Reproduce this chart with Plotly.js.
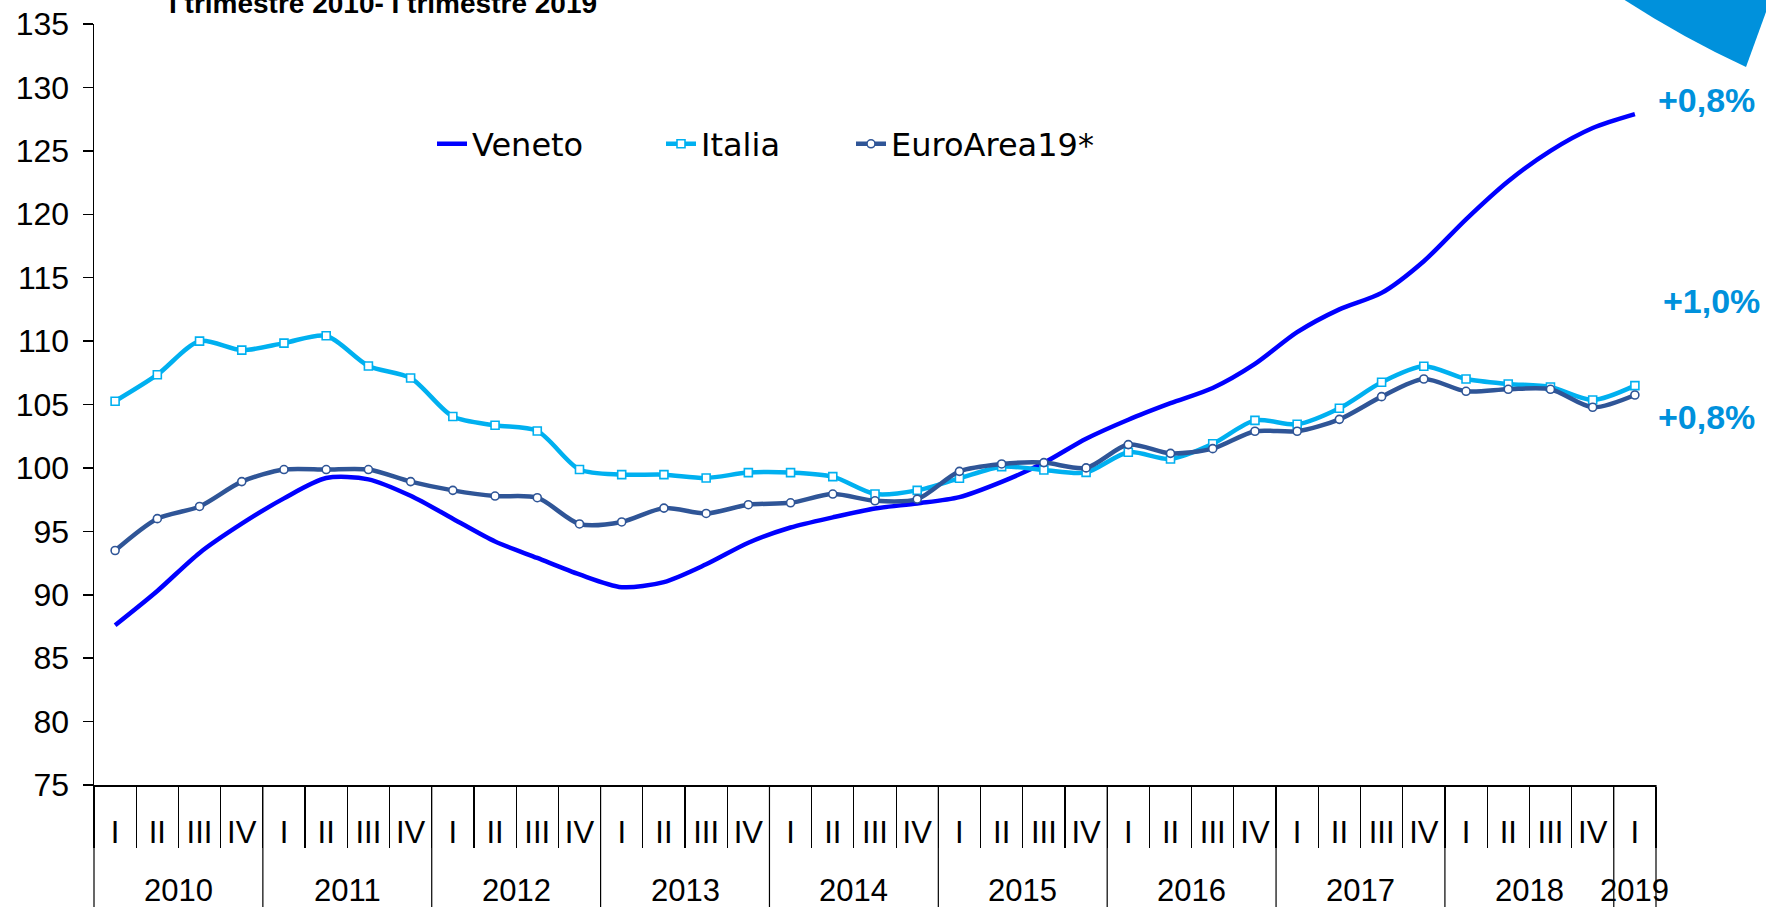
<!DOCTYPE html>
<html>
<head>
<meta charset="utf-8">
<script src="https://cdn.plot.ly/plotly-3.0.1.min.js"></script>
<style>html,body{margin:0;padding:0;background:#fff;}#chart{width:1766px;height:907px;}</style>
</head>
<body>
<div id="chart"></div>
<script>
// ---- data ----
const years = ["2010","2011","2012","2013","2014","2015","2016","2017","2018","2019"];
const quartersPerYear = [4,4,4,4,4,4,4,4,4,1];
const quarterNames = ["I","II","III","IV"];
const veneto = [87.6,90.3,93.3,95.6, 97.6,99.2,99.1,97.8, 96.0,94.2,92.9,91.6, 90.6,91.0,92.4,94.1,
  95.3,96.1,96.8,97.2, 97.7,98.9,100.4,102.3, 103.8,105.1,106.3,108.2, 110.7,112.5,113.8,116.3,
  119.6,122.6,125.0,126.8, 127.9];
const italia = [105.26,107.35,110.0,109.29, 109.84,110.42,108.04,107.09, 104.05,103.36,102.91,99.87,
  99.47,99.47,99.21,99.63, 99.63,99.31,97.94,98.23, 99.18,100.1,99.84,99.65, 101.24,100.7,101.9,103.75,
  103.44,104.7,106.75,108.01, 107.01,106.62,106.38,105.36, 106.49];
const euroArea = [93.49,96.0,96.96,98.92, 99.87,99.87,99.87,98.92, 98.23,97.78,97.65,95.58,
  95.74,96.83,96.41,97.1, 97.25,97.94,97.41,97.54, 99.73,100.31,100.42,100.0, 101.84,101.15,101.52,102.89,
  102.89,103.83,105.62,107.01, 106.04,106.2,106.2,104.78, 105.75];
const seriesNames = ["Veneto","Italia","EuroArea19*"];
const endLabels = ["+0,8%","+1,0%","+0,8%"];
const endLabelValues = [129.0,113.2,104.05];
const titleText = "I trimestre 2010- I trimestre 2019";

// ---- derived categories ----
const qLabels = [], qIdx = [];
years.forEach((y,yi)=>{ for(let q=0;q<quartersPerYear[yi];q++){ qLabels.push(quarterNames[q]); qIdx.push(qIdx.length); } });
const N = qIdx.length;
const yearStart = []; let acc = 0;
quartersPerYear.forEach(n=>{ yearStart.push(acc); acc += n; });

// ---- geometry ----
const W = 1766, H = 907;
const M = {l:94, r:110, t:24, b:122};
const PW = W - M.l - M.r, PH = H - M.t - M.b;
const pxX = px => (px - M.l)/PW;
const pxY = py => (H - M.b - py)/PH;
const dataXtoPaper = x => (x + 0.5)/N;

const fontTicks = "Liberation Sans, Arial, sans-serif";
const fontLegend = "DejaVu Sans, Verdana, sans-serif";
const accent = "#0091dc";

const traces = [
  {x:qIdx, y:veneto, name:seriesNames[0], type:"scatter", mode:"lines",
   line:{color:"#0000ff", width:4.5, shape:"spline", smoothing:0.8}, legendwidth:184},
  {x:qIdx, y:italia, name:seriesNames[1], type:"scatter", mode:"lines+markers",
   line:{color:"#00b0f0", width:4.5, shape:"spline", smoothing:0.8},
   marker:{symbol:"square", size:8, color:"#ffffff", line:{color:"#00b0f0", width:1.6}}, legendwidth:145},
  {x:qIdx, y:euroArea, name:seriesNames[2], type:"scatter", mode:"lines+markers",
   line:{color:"#2f5597", width:4.5, shape:"spline", smoothing:0.8},
   marker:{symbol:"circle", size:8, color:"#ffffff", line:{color:"#2f5597", width:1.6}}}
];

const shapes = [];
// year separators (boundaries of year groups), extending to bottom
const yb = yearStart.concat([N]);
yb.forEach(b=>{
  shapes.push({type:"line", xref:"paper", yref:"paper", x0:dataXtoPaper(b-0.5), x1:dataXtoPaper(b-0.5),
    y0:0, y1:pxY(H+5), line:{color:"#000", width:1.2}});
});
// top-right decorative blue segment
const p = (x,y)=> pxX(x).toFixed(5)+","+pxY(y).toFixed(5);
shapes.push({type:"path", xref:"paper", yref:"paper",
  path:"M"+p(1620,-3)+" Q"+p(1681,37)+" "+p(1746,67)+" L"+p(1770,1)+" L"+p(1770,-3)+" Z",
  fillcolor:accent, line:{width:0}});

const annotations = [];
years.forEach((y,yi)=>{
  const c = yearStart[yi] + (quartersPerYear[yi]-1)/2;
  annotations.push({xref:"x", yref:"paper", x:c, y:pxY(890), text:y, showarrow:false,
    xanchor:"center", yanchor:"middle", font:{family:fontTicks, size:31, color:"#000"}});
});
const endLabelX = [1706,1712,1706];
endLabels.forEach((t,i)=>{
  annotations.push({xref:"paper", yref:"y", x:pxX(endLabelX[i]), y:endLabelValues[i], text:"<b>"+t+"</b>", showarrow:false,
    xanchor:"center", yanchor:"middle", font:{family:fontTicks, size:34, color:accent}});
});
annotations.push({xref:"paper", yref:"paper", x:pxX(383), y:pxY(3), text:"<b>"+titleText+"</b>", showarrow:false,
  xanchor:"center", yanchor:"middle", font:{family:fontTicks, size:28, color:"#000"}});

const boundaries = [];
for(let i=0;i<=N;i++) boundaries.push(i-0.5);

const layout = {
  width:W, height:H, margin:M, paper_bgcolor:"#fff", plot_bgcolor:"#fff",
  showlegend:true,
  legend:{orientation:"h", x:pxX(432), y:pxY(144), xanchor:"left", yanchor:"middle",
    font:{family:fontLegend, size:32, color:"#000"}, bgcolor:"rgba(0,0,0,0)", tracegroupgap:0},
  xaxis:{range:[-0.5, N-0.5], tickmode:"array", tickvals:qIdx, ticktext:qLabels, ticks:"",
    showline:true, linecolor:"#000", linewidth:1.5, showgrid:false, zeroline:false,
    tickfont:{family:fontTicks, size:31, color:"#000"}, ticklabelstandoff:19,
    minor:{tickmode:"array", tickvals:boundaries, ticks:"outside", ticklen:61, tickwidth:1.2, tickcolor:"#000", showgrid:false}},
  yaxis:{range:[75,135], dtick:5, tick0:75, ticks:"outside", ticklen:10, tickwidth:1.5, tickcolor:"#000",
    showline:true, linecolor:"#000", linewidth:1.5, showgrid:false, zeroline:false,
    tickfont:{family:fontTicks, size:32, color:"#000"}, ticklabelstandoff:7},
  shapes:shapes, annotations:annotations
};

Plotly.newPlot("chart", traces, layout, {displayModeBar:false, staticPlot:true});
</script>
</body>
</html>
